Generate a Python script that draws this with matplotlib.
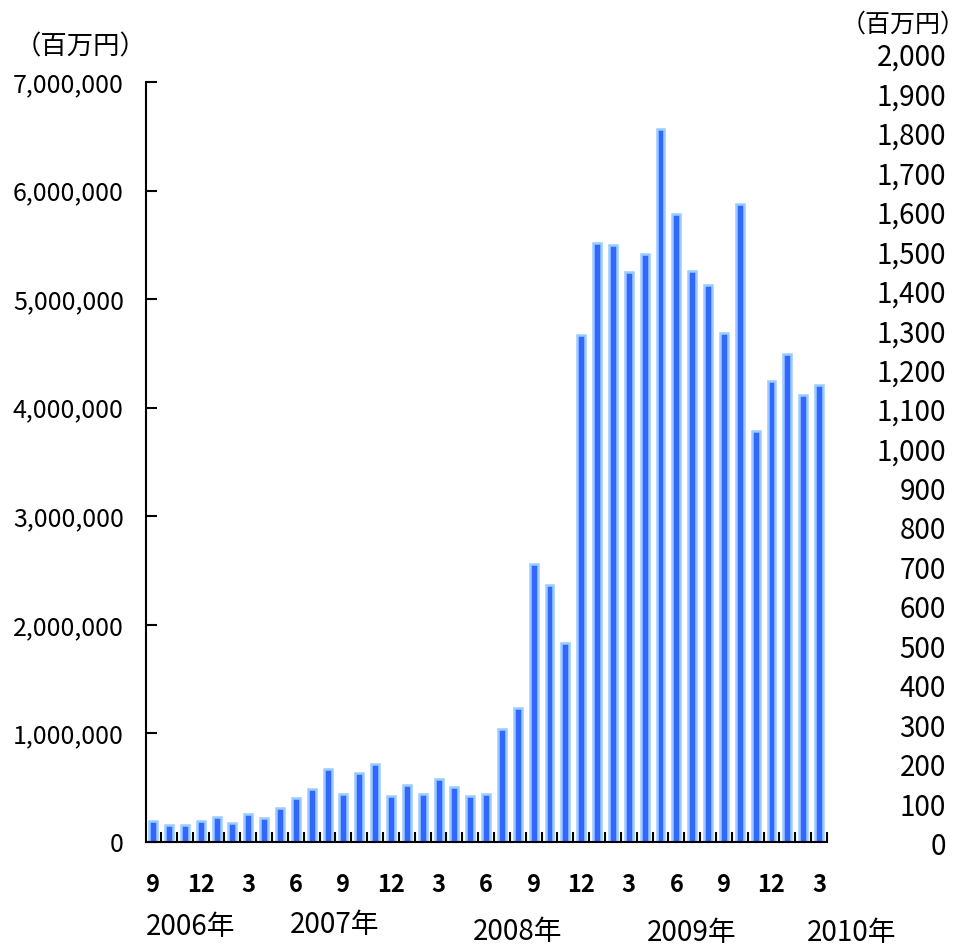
import numpy as np
import matplotlib
matplotlib.use("Agg")
import matplotlib.pyplot as plt

plt.rcParams['font.family'] = ['Noto Sans CJK JP', 'DejaVu Sans']

# monthly values, 2006-09 .. 2010-03 (百万円)
months = [9, 10, 11, 12,
          1, 2, 3, 4, 5, 6, 7, 8, 9, 10, 11, 12,
          1, 2, 3, 4, 5, 6, 7, 8, 9, 10, 11, 12,
          1, 2, 3, 4, 5, 6, 7, 8, 9, 10, 11, 12,
          1, 2, 3]
values = [193000, 157000, 157000, 193000,
          234000, 179000, 255000, 218000, 311000, 409000, 485000, 676000,
          446000, 639000, 716000, 424000,
          522000, 446000, 584000, 504000, 424000, 446000, 1041000, 1234000,
          2560000, 2367000, 1830000, 4670000,
          5514000, 5496000, 5247000, 5419000, 6570000, 5781000, 5262000, 5133000,
          4691000, 5876000, 3788000, 4246000,
          4495000, 4114000, 4209000]
left_ticks = [0, 1000000, 2000000, 3000000, 4000000, 5000000, 6000000, 7000000]
right_ticks = list(range(0, 2001, 100))
years = ["2006年", "2007年", "2008年", "2009年", "2010年"]
year_x = [191, 335, 518, 692, 852]
year_y = [927, 925, 932, 933, 933]

W, H = 970, 948
fig = plt.figure(figsize=(W / 100, H / 100), dpi=100)
ax = fig.add_axes([146 / W, 1 - 842 / H, (827 - 146) / W, (842 - 82) / H])

x = np.arange(len(values))
ax.bar(x, values, width=0.5, color='#3366FF', edgecolor='#99CCFF', linewidth=1.8)

ax.set_xlim(-0.45, len(values) - 0.5)
ax.set_ylim(0, 7000000)
for s in ['top', 'right']:
    ax.spines[s].set_visible(False)
ax.spines['left'].set_linewidth(1.5)
ax.spines['bottom'].set_linewidth(1.5)

ax.set_yticks(left_ticks)
ax.set_yticklabels([f"{v:,}" for v in left_ticks], fontsize=18)
ax.tick_params(axis='y', direction='in', length=8, width=1.5, pad=16)

# month labels every third month, minor ticks between bars
lab_idx = [i for i, m in enumerate(months) if m % 3 == 0]
ax.set_xticks(lab_idx)
ax.set_xticklabels([str(months[i]) for i in lab_idx], fontsize=17, fontweight='bold')
ax.tick_params(axis='x', length=0, pad=22)
ax.set_xticks(np.arange(len(values)) + 0.5, minor=True)
ax.tick_params(axis='x', which='minor', direction='in', length=7, width=1.5)

fig.text(15 / W, 1 - 47 / H, "（百万円）", fontsize=19, va='center', ha='left')
fig.text(966 / W, 1 - 25 / H, "（百万円）", fontsize=18, va='center', ha='right')

# right-hand scale
axr = fig.add_axes([0.85, 1 - 847 / H, 946 / W - 0.85, (847 - 58) / H])
axr.set_ylim(0, 2000)
axr.axis('off')
for v in right_ticks:
    axr.text(1.0, v, f"{v:,}", fontsize=20, ha='right', va='center',
             transform=axr.get_yaxis_transform())

for yr, xp, yp in zip(years, year_x, year_y):
    fig.text(xp / W, 1 - yp / H, yr, fontsize=20, ha='center', va='center')

fig.savefig("out.png", dpi=100)
